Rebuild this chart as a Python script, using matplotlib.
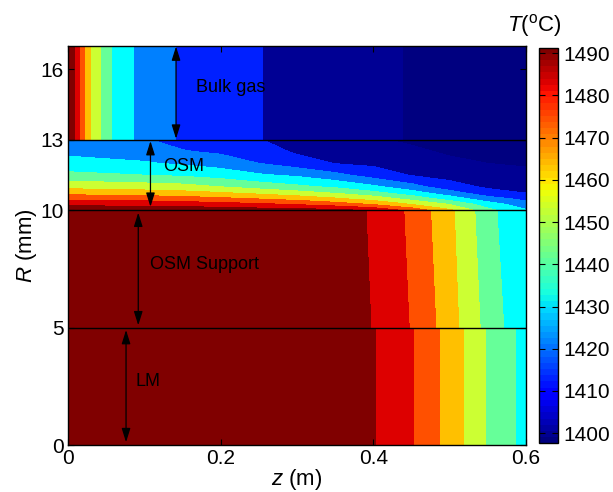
import numpy as np
import matplotlib
matplotlib.use("Agg")
import matplotlib.pyplot as plt
from matplotlib.colors import Normalize
from matplotlib.cm import ScalarMappable

plt.rcParams["font.family"] = ["Liberation Sans", "DejaVu Sans"]
plt.rcParams["mathtext.fontset"] = "custom"
plt.rcParams["mathtext.rm"] = "Liberation Sans"
plt.rcParams["mathtext.it"] = "Liberation Sans:italic"

# ---- isotherm levels (degC) and the fill colour of each band ----
levels = [1380, 1400, 1410, 1420, 1430, 1440, 1450, 1460, 1470, 1480, 1490, 1510]
band_colors = ["#000080", "#000094", "#0020ff", "#0080ff", "#00ffff", "#66ff99",
               "#ccff33", "#ffc000", "#ff5000", "#dd0000", "#800000"]

# ---- liquid metal (LM), R = 0..5 mm: axial temperature profile ----
lm_R = [0.0, 5.0]
lm_z = [0.0, 0.403, 0.453, 0.488, 0.519, 0.547, 0.587, 0.6]
lm_T = [1495, 1490, 1480, 1470, 1460, 1450, 1440, 1437]

# ---- OSM support, R = 5..10 mm: profiles along the bottom and top edges ----
support_R = [5.0, 10.0]
support_z_bottom = [0.0, 0.397, 0.447, 0.482, 0.512, 0.540, 0.571, 0.6]
support_z_top = [0.0, 0.391, 0.440, 0.475, 0.506, 0.533, 0.562, 0.6]
support_T = [1495, 1490, 1480, 1470, 1460, 1450, 1440, 1431]

# ---- OSM layer, R = 10..13 mm: temperature on a (R, z) grid ----
osm_z = [0.0, 0.1, 0.15, 0.2, 0.25, 0.3, 0.35, 0.4, 0.45, 0.5, 0.55, 0.6]
osm_R = [10.0, 10.25, 10.5, 10.75, 11.0, 11.5, 12.0, 12.5, 13.0]
osm_T = [
    [1498.0, 1497.0, 1497.0, 1496.5, 1495.0, 1494.0, 1493.0, 1488.5, 1477.0, 1462.0, 1443.0, 1431.0],
    [1487.7, 1486.8, 1485.7, 1484.0, 1482.1, 1479.4, 1475.3, 1469.4, 1460.0, 1450.0, 1435.0, 1425.0],
    [1476.7, 1475.5, 1473.8, 1471.9, 1469.0, 1465.8, 1461.1, 1455.3, 1446.3, 1435.0, 1424.0, 1416.9],
    [1466.3, 1464.3, 1462.9, 1460.5, 1457.1, 1453.3, 1448.7, 1442.5, 1434.0, 1424.0, 1413.5, 1409.7],
    [1456.9, 1455.0, 1453.6, 1450.0, 1446.0, 1442.2, 1438.3, 1432.0, 1424.0, 1414.0, 1408.5, 1407.4],
    [1442.6, 1440.0, 1438.4, 1435.6, 1431.3, 1428.3, 1422.9, 1415.7, 1409.4, 1406.5, 1404.3, 1402.7],
    [1433.5, 1430.9, 1428.7, 1425.8, 1420.0, 1415.0, 1409.7, 1407.9, 1405.6, 1402.2, 1400.0, 1398.8],
    [1427.8, 1425.7, 1420.8, 1418.4, 1415.3, 1408.5, 1406.3, 1404.5, 1401.9, 1398.7, 1398.0, 1396.0],
    [1424.0, 1421.0, 1416.0, 1413.0, 1410.5, 1406.0, 1403.0, 1401.0, 1398.5, 1396.0, 1394.0, 1393.0],
]

# ---- bulk gas, R = 13..17 mm: axial temperature profile ----
gas_R = [13.0, 17.0]
gas_z = [0.0, 0.009, 0.016, 0.022, 0.030, 0.043, 0.058, 0.086, 0.142, 0.256, 0.439, 0.6]
gas_T = [1497, 1490, 1480, 1470, 1460, 1450, 1440, 1430, 1420, 1410, 1400, 1396]

# colour bar range and ticks
cbar_min, cbar_max = 1397.6, 1491.3
cbar_ticks = [1400, 1410, 1420, 1430, 1440, 1450, 1460, 1470, 1480, 1490]

# ---- figure ----
fig = plt.figure(figsize=(6.13, 4.92), dpi=100)
ax = fig.add_axes([0.111, 0.0955, 0.747, 0.811])


def fill_region(z_rows, r_vals, t_rows):
    Z = np.asarray(z_rows, dtype=float)
    T = np.asarray(t_rows, dtype=float)
    R = np.broadcast_to(np.asarray(r_vals, dtype=float)[:, None], Z.shape)
    ax.contourf(Z, R, T, levels=levels, colors=band_colors, antialiased=False)


fill_region([lm_z, lm_z], lm_R, [lm_T, lm_T])
fill_region([support_z_bottom, support_z_top], support_R, [support_T, support_T])
osm_Z = np.broadcast_to(np.asarray(osm_z)[None, :], (len(osm_R), len(osm_z)))
fill_region(osm_Z, osm_R, osm_T)
fill_region([gas_z, gas_z], gas_R, [gas_T, gas_T])

# layer interfaces
for r in (5, 10, 13):
    ax.axhline(r, color="black", lw=1.0, zorder=3)

# layer labels with double-headed arrows
layers = [
    ("Bulk gas", 0.1415, 16.98, 13.05, 0.168, 15.25),
    ("OSM", 0.108, 12.95, 10.15, 0.124, 11.85),
    ("OSM Support", 0.092, 9.9, 5.1, 0.107, 7.7),
    ("LM", 0.076, 4.9, 0.12, 0.089, 2.7),
]
for name, za, r_top, r_bot, zt, rt in layers:
    ax.annotate("", xy=(za, r_bot), xytext=(za, r_top),
                arrowprops=dict(arrowstyle="<|-|>,head_length=0.7,head_width=0.22",
                                color="black", lw=0.9, mutation_scale=12,
                                shrinkA=0, shrinkB=0), zorder=4)
    ax.text(zt, rt, name, fontsize=13, ha="left", va="center", color="black", zorder=5)

ax.set_xlim(0, 0.6)
ax.set_ylim(0, 17)
ax.set_xticks([0, 0.2, 0.4, 0.6])
ax.set_xticklabels(["0", "0.2", "0.4", "0.6"])
ax.set_yticks([0, 5, 10, 13, 16])
ax.tick_params(direction="in", top=True, right=True, length=4, width=0.8,
               labelsize=15, pad=3)
for s in ax.spines.values():
    s.set_linewidth(1.0)
ax.set_xlabel("$z$ (m)", fontsize=16, labelpad=-1)
ax.set_ylabel("$R$ (mm)", fontsize=16, labelpad=1)

# colour bar
cax = fig.add_axes([0.8798, 0.099, 0.031, 0.804])
sm = ScalarMappable(norm=Normalize(cbar_min, cbar_max), cmap=plt.get_cmap("jet", 64))
cb = fig.colorbar(sm, cax=cax, ticks=cbar_ticks)
cb.ax.tick_params(direction="in", length=4, width=0.8, labelsize=15, left=True, right=True)
cb.outline.set_linewidth(1.0)
fig.text(0.872, 0.949, "$T$($^{\\rm o}$C)", fontsize=16, ha="center", va="center")

fig.savefig("out.png", dpi=100)
